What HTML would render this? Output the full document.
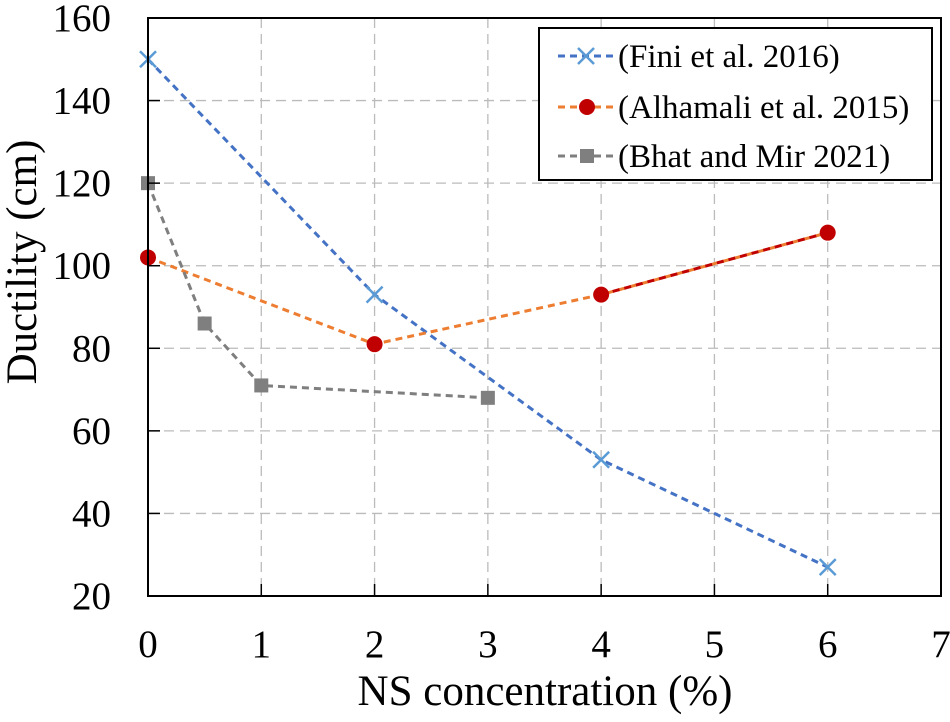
<!DOCTYPE html>
<html><head><meta charset="utf-8"><style>
body{margin:0;background:#fff;}
svg{display:block;font-family:"Liberation Serif",serif;}
</style></head><body>
<svg id="chart" width="950" height="722">
<g id="grid"></g>
<g id="series"></g>
<rect x="148" y="18" width="793" height="578" fill="none" stroke="#000" stroke-width="2"/>
<g id="ticks"></g>
<text x="545" y="705" font-size="43" text-anchor="middle">NS concentration (%)</text>
<text transform="translate(36,262) rotate(-90)" font-size="43" text-anchor="middle">Ductility (cm)</text>
<g>
<rect x="539" y="28" width="393" height="152" fill="#fff" stroke="#000" stroke-width="2"/>
<g>
<line x1="558" y1="56" x2="616" y2="56" stroke="#4472c4" stroke-width="3" stroke-dasharray="7,5"/>
<path d="M578,48 L594,64 M594,48 L578,64" stroke="#5b9bd5" stroke-width="2.5"/>
<text x="618" y="67" font-size="33">(Fini et al. 2016)</text></g>
<g>
<line x1="558" y1="107" x2="616" y2="107" stroke="#ed7d31" stroke-width="3" stroke-dasharray="7,5"/>
<circle cx="587" cy="107" r="8" fill="#c00000"/>
<text x="618" y="118" font-size="33">(Alhamali et al. 2015)</text></g>
<g>
<line x1="558" y1="156" x2="616" y2="156" stroke="#7f7f7f" stroke-width="3" stroke-dasharray="7,5"/>
<rect x="580" y="149" width="14" height="14" fill="#7f7f7f"/>
<text x="618" y="167" font-size="33">(Bhat and Mir 2021)</text></g>
</g>
</svg>
<script>
const xTicks=[0,1,2,3,4,5,6,7];
const yTicks=[20,40,60,80,100,120,140,160];
const finiX=[0,2,4,6];
const finiY=[150,93,53,27];
const alhX=[0,2,4,6];
const alhY=[102,81,93,108];
const bhatX=[0,0.5,1,3];
const bhatY=[120,86,71,68];
const NS='http://www.w3.org/2000/svg';
const sx=v=>148+v*(941-148)/7;
const sy=v=>596-(v-20)*(596-18)/140;
function mk(tag,attrs,parent){const e=document.createElementNS(NS,tag);for(const k in attrs)e.setAttribute(k,attrs[k]);parent.appendChild(e);return e;}
const grid=document.getElementById('grid'),ticks=document.getElementById('ticks'),ser=document.getElementById('series');
xTicks.forEach(t=>{
 if(t>0&&t<7){const g=mk('line',{x1:sx(t),x2:sx(t),y1:18,y2:596,stroke:'#bbb','stroke-width':1.3,'stroke-dasharray':'10,6'},grid);
 
 
 const tk=mk('line',{x1:sx(t),x2:sx(t),y1:584,y2:596,stroke:'#000','stroke-width':1.5},ticks);
 
 }
 const l=mk('text',{x:sx(t),y:657,'font-size':39,'text-anchor':'middle'},ticks);l.textContent=t;
 
 
});
yTicks.forEach(t=>{
 if(t>20&&t<160){const g=mk('line',{x1:148,x2:941,y1:sy(t),y2:sy(t),stroke:'#bbb','stroke-width':1.3,'stroke-dasharray':'10,6'},grid);
 
 
 const tk=mk('line',{x1:148,x2:160,y1:sy(t),y2:sy(t),stroke:'#000','stroke-width':1.5},ticks);
 
 }
 const l=mk('text',{x:111,y:sy(t)+13,'font-size':39,'text-anchor':'end'},ticks);l.textContent=t;
 
 
});
function line(xs,ys,color,name){
 const p=mk('polyline',{points:xs.map((x,i)=>sx(x)+','+sy(ys[i])).join(' '),fill:'none',stroke:color,'stroke-width':3,'stroke-dasharray':'7,5'},ser);
 
 
}
line(finiX,finiY,'#4472c4','fini-line');
line(alhX,alhY,'#ed7d31','alhamali-line');
const seg=mk('line',{x1:sx(alhX[2]),y1:sy(alhY[2]),x2:sx(alhX[3]),y2:sy(alhY[3]),stroke:'#c00000','stroke-width':3,'stroke-dasharray':'7,5'},ser);


line(bhatX,bhatY,'#7f7f7f','bhat-line');
finiX.forEach((x,i)=>{const cx=sx(x),cy=sy(finiY[i]);
 const m=mk('path',{d:`M${cx-8},${cy-8}L${cx+8},${cy+8}M${cx+8},${cy-8}L${cx-8},${cy+8}`,stroke:'#5b9bd5','stroke-width':2.5},ser);
 
 });
alhX.forEach((x,i)=>{
 const m=mk('circle',{cx:sx(x),cy:sy(alhY[i]),r:8,fill:'#c00000'},ser);
 
 });
bhatX.forEach((x,i)=>{
 const m=mk('rect',{x:sx(x)-7,y:sy(bhatY[i])-7,width:14,height:14,fill:'#7f7f7f'},ser);
 
 });
</script>
</body></html>
